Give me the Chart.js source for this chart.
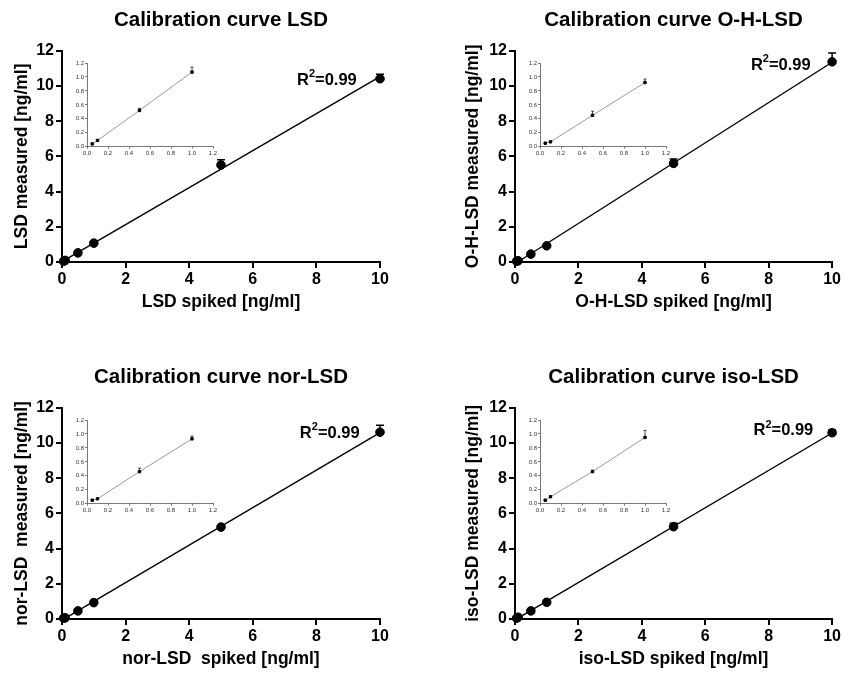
<!DOCTYPE html>
<html>
<head>
<meta charset="utf-8">
<script src="https://cdn.jsdelivr.net/npm/chart.js@4.4.0/dist/chart.umd.min.js"></script>
<style>
body{margin:0;background:#fff;overflow:hidden;width:843px;height:675px}
canvas{position:absolute}
</style>
</head>
<body>
<div id="wrap"></div>
<script>
// spiked concentrations [ng/ml]
var spiked = [0.05, 0.1, 0.5, 1, 5, 10];
// measured means and SD for each analyte
var lsdMeasured  = [0.04, 0.09, 0.52, 1.07, 5.51, 10.41];
var lsdSd        = [0.005, 0.01, 0.03, 0.07, 0.30, 0.25];
var ohMeasured   = [0.05, 0.07, 0.45, 0.92, 5.60, 11.37];
var ohSd         = [0.005, 0.005, 0.06, 0.05, 0.25, 0.50];
var norMeasured  = [0.05, 0.07, 0.46, 0.93, 5.22, 10.61];
var norSd        = [0.005, 0.005, 0.05, 0.04, 0.08, 0.40];
var isoMeasured  = [0.05, 0.10, 0.46, 0.95, 5.24, 10.58];
var isoSd        = [0.005, 0.005, 0.02, 0.10, 0.20, 0.15];
var r2Values     = ['0.99', '0.99', '0.99', '0.99'];
// tick labels
var mainXTicks  = [0, 2, 4, 6, 8, 10];
var mainYTicks  = [0, 2, 4, 6, 8, 10, 12];
var insetTicks  = [0, 0.2, 0.4, 0.6, 0.8, 1.0, 1.2];
var insetCount  = 4; // inset shows the 4 lowest levels

var FONT = "'Liberation Sans', Arial, sans-serif";

var panels = [
  {title:'Calibration curve LSD', xTitle:'LSD spiked [ng/ml]', yTitle:'LSD measured [ng/ml]',
   y:lsdMeasured, sd:lsdSd, r2:r2Values[0], r2At:[7.39, 10.33], left:0, top:0, width:421, yPad:11.5},
  {title:'Calibration curve O-H-LSD', xTitle:'O-H-LSD spiked [ng/ml]', yTitle:'O-H-LSD measured [ng/ml]',
   y:ohMeasured, sd:ohSd, r2:r2Values[1], r2At:[7.44, 11.19], left:453, top:0, width:390, yPad:9.5},
  {title:'Calibration curve nor-LSD', xTitle:'nor-LSD  spiked [ng/ml]', yTitle:'nor-LSD  measured [ng/ml]',
   y:norMeasured, sd:norSd, r2:r2Values[2], r2At:[7.48, 10.56], left:0, top:357, width:421, yPad:11.5},
  {title:'Calibration curve iso-LSD', xTitle:'iso-LSD spiked [ng/ml]', yTitle:'iso-LSD measured [ng/ml]',
   y:isoMeasured, sd:isoSd, r2:r2Values[3], r2At:[7.52, 10.69], left:453, top:357, width:390, yPad:9.5}
];

function pts(xs, ys) {
  return xs.map(function (x, i) { return {x: x, y: ys[i]}; });
}

function fitLine(xs, ys) {
  var n = xs.length, sx = 0, sy = 0, sxx = 0, sxy = 0;
  for (var i = 0; i < n; i++) { sx += xs[i]; sy += ys[i]; sxx += xs[i]*xs[i]; sxy += xs[i]*ys[i]; }
  var m = (n*sxy - sx*sy) / (n*sxx - sx*sx);
  var b = (sy - m*sx) / n;
  return [{x: 0, y: b}, {x: 10, y: m*10 + b}];
}

// upper error bars (mean + SD) drawn through the scales
function errorBars(sd, lw, cap) {
  return {
    id: 'errbars',
    afterDatasetsDraw: function (chart) {
      var ctx = chart.ctx, xs = chart.scales.x, ys = chart.scales.y;
      var data = chart.data.datasets[0].data;
      ctx.save();
      ctx.strokeStyle = '#000';
      ctx.lineWidth = lw;
      data.forEach(function (p, i) {
        var px = xs.getPixelForValue(p.x);
        var y0 = ys.getPixelForValue(p.y);
        var y1 = ys.getPixelForValue(p.y + sd[i]);
        ctx.beginPath();
        ctx.moveTo(px, y0); ctx.lineTo(px, y1);
        ctx.moveTo(px - cap, y1); ctx.lineTo(px + cap, y1);
        ctx.stroke();
      });
      ctx.restore();
    }
  };
}

function r2Label(text, at) {
  return {
    id: 'r2label',
    afterDraw: function (chart) {
      var ctx = chart.ctx;
      var x = chart.scales.x.getPixelForValue(at[0]);
      var y = chart.scales.y.getPixelForValue(at[1]);
      ctx.save();
      ctx.fillStyle = '#000';
      ctx.textBaseline = 'middle';
      ctx.font = 'bold 16.5px ' + FONT;
      ctx.fillText('R', x, y);
      var w = ctx.measureText('R').width;
      ctx.font = 'bold 11px ' + FONT;
      ctx.fillText('2', x + w, y - 6);
      var w2 = ctx.measureText('2').width;
      ctx.font = 'bold 16.5px ' + FONT;
      ctx.fillText('=' + text, x + w + w2, y);
      ctx.restore();
    }
  };
}

var wrap = document.getElementById('wrap');

panels.forEach(function (p) {
  var c = document.createElement('canvas');
  c.width = p.width; c.height = 318;
  c.style.left = p.left + 'px'; c.style.top = p.top + 'px';
  wrap.appendChild(c);

  var tickFont = {family: FONT, size: 16, weight: 'bold'};
  var titleFont = {family: FONT, size: 17.5, weight: 'bold', lineHeight: 1.2};
  new Chart(c, {
    type: 'scatter',
    data: {
      datasets: [
        {data: pts(spiked, p.y), backgroundColor: '#000', borderColor: '#000',
         pointRadius: 4.3, pointHoverRadius: 4.3, clip: false, order: 0},
        {data: fitLine(spiked, p.y), showLine: true, borderColor: '#000', borderWidth: 1.4,
         pointRadius: 0, clip: false, order: 1}
      ]
    },
    options: {
      responsive: false,
      animation: false,
      events: [],
      layout: {padding: {left: 0, right: p.width - 380, top: 0, bottom: 0}},
      plugins: {
        legend: {display: false},
        tooltip: {enabled: false},
        title: {display: true, text: p.title, color: '#000', fullSize: false,
                font: {family: FONT, size: 20.5, weight: 'bold', lineHeight: 1.2},
                padding: {top: 7.7, bottom: 18.4}}
      },
      scales: {
        x: {
          type: 'linear', min: 0, max: 10,
          afterBuildTicks: function (s) { s.ticks = mainXTicks.map(function (v) { return {value: v}; }); },
          afterFit: function (s) { s.height = 56; },
          grid: {drawOnChartArea: false, drawTicks: true, tickLength: 6, color: '#000', lineWidth: 2},
          border: {color: '#000', width: 2},
          ticks: {color: '#000', font: tickFont, padding: 2, maxRotation: 0},
          title: {display: true, text: p.xTitle, color: '#000', font: titleFont, padding: {top: 2, bottom: 5.5}}
        },
        y: {
          type: 'linear', min: 0, max: 12,
          afterBuildTicks: function (s) { s.ticks = mainYTicks.map(function (v) { return {value: v}; }); },
          afterFit: function (s) { s.width = 62; },
          grid: {drawOnChartArea: false, drawTicks: true, tickLength: 6, color: '#000', lineWidth: 2},
          border: {color: '#000', width: 2},
          ticks: {color: '#000', font: tickFont, padding: 2},
          title: {display: true, text: p.yTitle, color: '#000', font: titleFont, padding: {top: p.yPad, bottom: 0}}
        }
      }
    },
    plugins: [errorBars(p.sd, 1.5, 4), r2Label(p.r2, p.r2At)]
  });

  // inset with the low concentrations
  var ic = document.createElement('canvas');
  ic.width = 160; ic.height = 108;
  ic.style.left = (p.left + 64) + 'px'; ic.style.top = (p.top + 52) + 'px';
  wrap.appendChild(ic);
  var xs = spiked.slice(0, insetCount), ysl = p.y.slice(0, insetCount);
  var smallFont = {family: FONT, size: 6};
  new Chart(ic, {
    type: 'scatter',
    data: {
      datasets: [
        {data: pts(xs, ysl), backgroundColor: '#000', borderColor: '#000', pointStyle: 'rect',
         pointRadius: 1.7, showLine: true, clip: false,
         segment: {borderColor: '#999'}, borderWidth: 1}
      ]
    },
    options: {
      responsive: false,
      animation: false,
      events: [],
      layout: {padding: {left: 0, right: 11, top: 11, bottom: 0}},
      plugins: {legend: {display: false}, tooltip: {enabled: false}},
      scales: {
        x: {
          type: 'linear', min: 0, max: 1.2,
          afterBuildTicks: function (s) { s.ticks = insetTicks.map(function (v) { return {value: v}; }); },
          afterFit: function (s) { s.height = 13.3; },
          grid: {drawOnChartArea: false, drawTicks: true, tickLength: 2, color: '#555', lineWidth: 0.8},
          border: {color: '#555', width: 0.8},
          ticks: {color: '#333', font: smallFont, padding: 1, maxRotation: 0,
                  callback: function (v) { return v.toFixed(1); }}
        },
        y: {
          type: 'linear', min: 0, max: 1.2,
          afterBuildTicks: function (s) { s.ticks = insetTicks.map(function (v) { return {value: v}; }); },
          afterFit: function (s) { s.width = 23; },
          grid: {drawOnChartArea: false, drawTicks: true, tickLength: 2, color: '#555', lineWidth: 0.8},
          border: {color: '#555', width: 0.8},
          ticks: {color: '#333', font: smallFont, padding: 1,
                  callback: function (v) { return v.toFixed(1); }}
        }
      }
    },
    plugins: [errorBars(p.sd.slice(0, insetCount), 0.7, 1.5)]
  });
});
</script>
</body>
</html>
